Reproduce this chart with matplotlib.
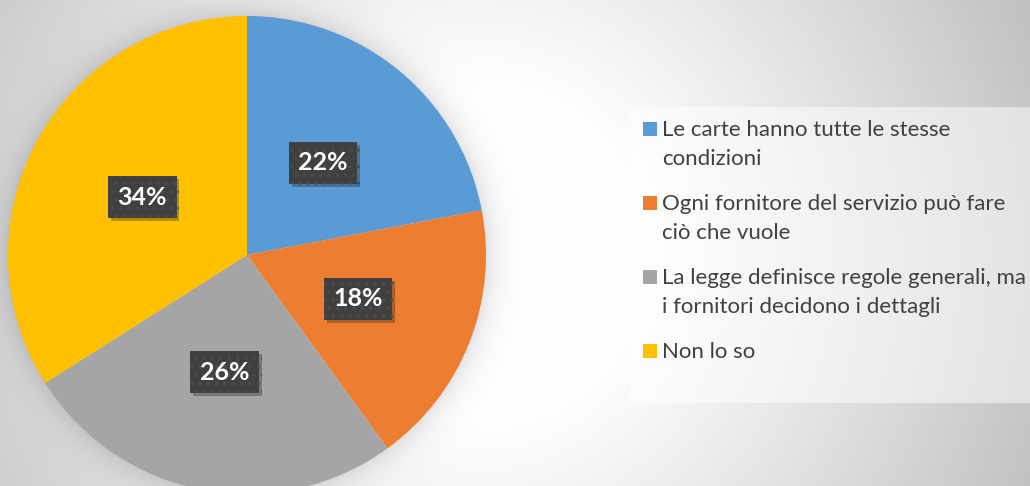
import numpy as np
import matplotlib
matplotlib.use("Agg")
import matplotlib.pyplot as plt
from matplotlib.patches import Rectangle
import matplotlib.patheffects as pe

plt.rcParams['font.family'] = ['Lato', 'DejaVu Sans']

# dati
categories = ["Le carte hanno tutte le stesse\ncondizioni",
              "Ogni fornitore del servizio può fare\nciò che vuole",
              "La legge definisce regole generali, ma\ni fornitori decidono i dettagli",
              "Non lo so"]
values = [22, 18, 26, 34]
colors = ['#5B9BD5', '#ED7D31', '#A5A5A5', '#FFC000']

W, H = 1030, 486
fig = plt.figure(figsize=(W / 100, H / 100), dpi=100)

# sfondo: gradiente radiale + ombra della torta
yy, xx = np.mgrid[0:H, 0:W]
d = np.hypot(xx - 470, yy - 255)
bg = 1 - np.clip((d - 160) / 460, 0, 1) ** 1.1 * 0.25
dp = np.hypot(xx - 247, yy - 255) - 239
shadow = np.where(dp > 0, np.exp(-dp / 14.0), 1.0)
bg = bg - 0.10 * shadow
bgax = fig.add_axes([0, 0, 1, 1])
bgax.imshow(np.dstack([bg] * 3), extent=[0, W, H, 0], aspect='auto')
bgax.set_xlim(0, W)
bgax.set_ylim(H, 0)
bgax.axis('off')

# torta
ax = fig.add_axes([8 / W, -8 / H, 478 / W, 478 / H])
wedges, _, autotexts = ax.pie(values, colors=colors, startangle=90, counterclock=False,
                              autopct=lambda p: f"{p:.0f}%", pctdistance=0.5,
                              wedgeprops=dict(linewidth=0))
ax.set_xlim(-1, 1)
ax.set_ylim(-1, 1)
ax.set_aspect('equal')
for t in autotexts:
    t.set_color('white')
    t.set_fontsize(18)
    t.set_fontweight('bold')
    t.set_bbox(dict(boxstyle='square,pad=0.38', facecolor='#404040', edgecolor='#4c4c4c',
                    linewidth=0, hatch='..'))
    t.get_bbox_patch().set_path_effects([pe.withSimplePatchShadow(offset=(2, -2), alpha=0.3)])

# legenda (disegnata a mano)
bgax.add_patch(Rectangle((630, 107), 410, 296, facecolor='white', alpha=0.5, linewidth=0))
y0 = 129
for lab, col in zip(categories, colors):
    bgax.add_patch(Rectangle((643, y0 - 7), 14, 14, facecolor=col, linewidth=0))
    lines = lab.split("\n")
    for i, ln in enumerate(lines):
        bgax.text(662, y0 + 7 + i * 29, ln, fontsize=16, color='#404040', va='baseline', ha='left')
    y0 += 29 * len(lines) + 16

fig.savefig('out.png', dpi=100)
